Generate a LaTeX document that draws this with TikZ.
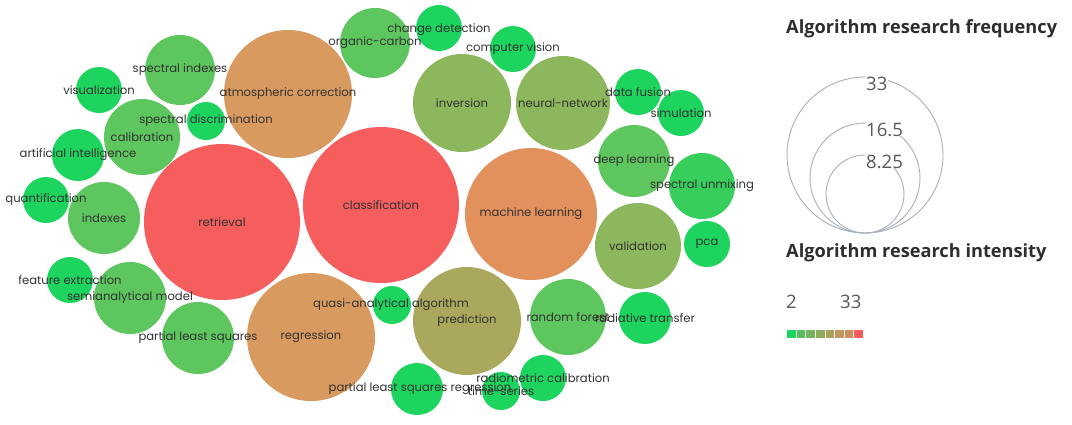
\documentclass[tikz,border=0pt]{standalone}
\usepackage{fontspec}
\setmainfont{Poppins}
\newfontfamily\legfont{Open Sans}
\definecolor{cA}{HTML}{1CD45E}
\definecolor{cA2}{HTML}{38CE5C}
\definecolor{cB}{HTML}{5EC65E}
\definecolor{cC}{HTML}{8DB75C}
\definecolor{cD}{HTML}{AAA85C}
\definecolor{cE}{HTML}{D89A5F}
\definecolor{cF}{HTML}{E2905C}
\definecolor{cG}{HTML}{F65D5D}
\definecolor{legline}{HTML}{A7B0BA}
\definecolor{b1}{HTML}{1CD45E}
\definecolor{b2}{HTML}{58BD5C}
\definecolor{b3}{HTML}{74B35B}
\definecolor{b4}{HTML}{8EAA5B}
\definecolor{b5}{HTML}{A9A05C}
\definecolor{b6}{HTML}{C0965C}
\definecolor{b7}{HTML}{D18D5C}
\definecolor{b8}{HTML}{FB5A5A}
\newcommand\bub[5]{\node[bubble, fill=#5, minimum size=#4*2pt] (#1) at (#2,#3) {};}
\begin{document}
\begin{tikzpicture}[x=1pt,y=-1pt,
  bubble/.style={circle, inner sep=0pt, draw=none},
  lbl/.style={font=\fontsize{11.6}{13}\selectfont, text=black!80, inner sep=0pt},
  legtitle/.style={font=\legfont\bfseries\fontsize{18.2}{21}\selectfont, text=black!82, anchor=west, inner sep=0pt},
  legnum/.style={font=\legfont\fontsize{18.5}{21}\selectfont, text=black!65, inner sep=0pt},
  legcirc/.style={circle, draw=legline, line width=0.9pt, inner sep=0pt},
  sq/.style={inner sep=0pt, minimum width=8.6pt, minimum height=8pt}]
\fill[white] (0,0) rectangle (1072,424);
\useasboundingbox (0,0) rectangle (1072,424);
% bubbles
\bub{retrieval}{222}{222}{78}{cG}
\bub{classification}{381}{205}{78}{cG}
\bub{atmcorr}{288}{94}{64}{cE}
\bub{machlearn}{531}{214}{66}{cF}
\bub{regression}{311}{337}{64}{cE}
\bub{prediction}{467}{321}{54}{cD}
\bub{inversion}{462}{103}{49}{cC}
\bub{neural}{563}{103}{47}{cC}
\bub{validation}{638}{246}{43}{cC}
\bub{specidx}{180}{70}{35}{cB}
\bub{calibration}{142}{137}{38}{cB}
\bub{indexes}{104}{218}{36}{cB}
\bub{semianal}{130}{298}{36}{cB}
\bub{pls}{198}{338}{36}{cB}
\bub{organic}{375}{43}{35}{cB}
\bub{deeplearn}{634}{161}{36}{cB}
\bub{randforest}{568}{317}{38}{cB}
\bub{specunmix}{702}{186}{33}{cA2}
\bub{visual}{99}{90}{23}{cA}
\bub{specdisc}{206}{121}{19}{cA}
\bub{artint}{78}{155}{26}{cA}
\bub{quant}{46}{200}{23}{cA}
\bub{featext}{70}{280}{23}{cA}
\bub{change}{439}{28}{23}{cA}
\bub{compvis}{513}{49}{23}{cA}
\bub{datafus}{638}{92}{23}{cA}
\bub{simul}{681}{113}{23}{cA}
\bub{pca}{707}{244}{23}{cA}
\bub{radtrans}{645}{318}{26}{cA}
\bub{quasi}{392}{305}{19}{cA}
\bub{plsr}{417}{389}{26}{cA}
\bub{radcal}{543}{378}{23}{cA}
\bub{timeser}{501}{391}{19}{cA}
% labels
\node[lbl] at (retrieval) {retrieval};
\node[lbl] at (classification) {classification};
\node[lbl] at (atmcorr) {atmospheric correction};
\node[lbl] at (machlearn) {machine learning};
\node[lbl] at (regression) {regression};
\node[lbl] at (prediction) {prediction};
\node[lbl] at (inversion) {inversion};
\node[lbl] at (neural) {neural-network};
\node[lbl] at (validation) {validation};
\node[lbl] at (specidx) {spectral indexes};
\node[lbl] at (calibration) {calibration};
\node[lbl] at (indexes) {indexes};
\node[lbl] at (semianal) {semianalytical model};
\node[lbl] at (pls) {partial least squares};
\node[lbl] at (organic) {organic-carbon};
\node[lbl] at (deeplearn) {deep learning};
\node[lbl] at (randforest) {random forest};
\node[lbl] at (specunmix) {spectral unmixing};
\node[lbl] at (visual) {visualization};
\node[lbl] at (specdisc) {spectral discrimination};
\node[lbl] at (artint) {artificial intelligence};
\node[lbl] at (quant) {quantification};
\node[lbl] at (featext) {feature extraction};
\node[lbl] at ([yshift=-2pt]change) {change detection};
\node[lbl] at (compvis) {computer vision};
\node[lbl] at (datafus) {data fusion};
\node[lbl] at (simul) {simulation};
\node[lbl] at (pca) {pca};
\node[lbl] at (radtrans) {radiative transfer};
\node[lbl] at ([xshift=-1pt]quasi) {quasi-analytical algorithm};
\node[lbl] at ([xshift=3pt]plsr) {partial least squares regression};
\node[lbl] at (radcal) {radiometric calibration};
\node[lbl] at (timeser) {time-series};
% legend: frequency
\node[legtitle] (ftitle) at (786,29) {Algorithm research frequency};
\node[legcirc, minimum size=156pt] (c33) at (865,155) {};
\node[legcirc, minimum size=110pt] (c16) at (865,178) {};
\node[legcirc, minimum size=78pt] (c8) at (865,194) {};
\node[legnum, anchor=west, fill=white, inner xsep=1pt, inner ysep=0pt] at ([yshift=-7pt]c33.north) {33};
\node[legnum, anchor=west, fill=white, inner xsep=1pt, inner ysep=0pt] at ([yshift=-7pt]c16.north) {16.5};
\node[legnum, anchor=west, fill=white, inner xsep=1pt, inner ysep=0pt] at ([yshift=-7pt]c8.north) {8.25};
% legend: intensity
\node[legtitle] (ititle) at (786,253) {Algorithm research intensity};
\node[legnum, anchor=west] (lo) at (786,302) {2};
\node[legnum, anchor=west] (hi) at (840,302) {33};
\foreach \c [count=\i from 0] in {b1,b2,b3,b4,b5,b6,b7,b8}
  \node[sq, fill=\c, anchor=west] (sq\i) at (787+\i*9.6,334) {};
\end{tikzpicture}
\end{document}
